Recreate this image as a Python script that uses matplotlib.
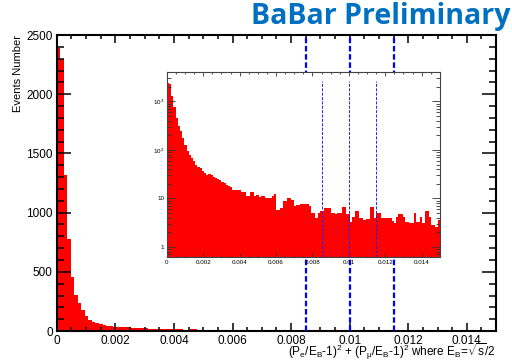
import numpy as np
import matplotlib.pyplot as plt
from matplotlib.ticker import MultipleLocator, FixedLocator, FixedFormatter, FuncFormatter, LogLocator, NullFormatter

plt.rcParams['font.family'] = ['Liberation Sans', 'DejaVu Sans']
plt.rcParams['mathtext.fontset'] = 'custom'
plt.rcParams['mathtext.rm'] = 'Liberation Sans'
plt.rcParams['mathtext.it'] = 'Liberation Sans'
plt.rcParams['mathtext.default'] = 'regular'

# histogram binning: 125 bins over [0, 0.015]
x_lo = 0.0
x_hi = 0.015
n_bins = 125

# events per bin
counts = [
    2390, 2300, 1318, 777, 456, 304, 240, 180, 125, 95,
    80, 68, 58, 48, 44, 42, 37, 34, 31, 32,
    31, 28, 26, 25, 24, 22, 21, 19, 18, 17,
    15, 15, 15, 15, 13.3, 13.3, 11, 11, 13.8, 13.8,
    11, 11.9, 10.5, 11.4, 11, 10.2, 10.2, 10.2, 11, 12.5,
    5.8, 5.8, 6.5, 8.7, 8.7, 10, 10, 9.4, 7.1, 7.4,
    7.4, 7.8, 7.8, 7.7, 7.7, 7.1, 5.0, 5.0, 3.9, 5.1,
    5.4, 5.4, 6.5, 6.5, 6.5, 5.1, 5.1, 4.8, 5.0, 5.0,
    6.8, 6.8, 4.8, 4.8, 3.3, 4.2, 5.4, 5.4, 3.9, 3.9,
    3.6, 3.7, 3.7, 6.8, 6.8, 4.0, 5.1, 5.1, 3.9, 3.9,
    3.9, 3.9, 3.9, 3.5, 3.1, 4.2, 4.8, 4.8, 4.2, 3.3,
    3.3, 3.1, 3.1, 5.1, 3.3, 3.3, 4.2, 3.1, 5.4, 5.4,
    4.2, 2.85, 2.85, 2.6, 3.6,
]

# selection cut positions
cuts = [0.0085, 0.0100, 0.0115]

edges = np.linspace(x_lo, x_hi, n_bins + 1)
counts = np.array(counts, dtype=float)

fig = plt.figure(figsize=(5.12, 3.61), dpi=100)

# ---- main linear plot
ax = fig.add_axes([0.111, 0.083, 0.858, 0.820])
ax.stairs(counts, edges, fill=True, color='#ff0000', lw=0)
for c in cuts:
    ax.axvline(c, color='#0000ff', lw=1.6, ls=(0, (2.5, 1.2)), zorder=3)
ax.set_xlim(x_lo, x_hi)
ax.set_ylim(0, 2500)

ax.xaxis.set_major_locator(MultipleLocator(0.002))
ax.xaxis.set_minor_locator(MultipleLocator(0.0005))
ax.yaxis.set_major_locator(MultipleLocator(500))
ax.yaxis.set_minor_locator(MultipleLocator(100))
ax.xaxis.set_major_formatter(FuncFormatter(lambda v, p: f'{v:g}'))
ax.tick_params(which='both', direction='in', top=True, right=True,
               width=1.1, labelsize=8.5, colors='black')
ax.tick_params(axis='x', which='major', length=6, pad=3)
ax.tick_params(axis='x', which='minor', length=3)
ax.tick_params(axis='y', which='major', length=10, pad=3)
ax.tick_params(axis='y', which='minor', length=5)
for s in ax.spines.values():
    s.set_linewidth(1.5)

ax.set_ylabel('Events Number', fontsize=8, ha='right', va='center')
ax.yaxis.set_label_coords(-0.088, 1.0)
ax.set_xlabel(r'$(P_e/E_B$-$1)^2$ + $(P_\mu/E_B$-$1)^2$ where $E_B$=$\sqrt{s}/2$',
              fontsize=8.5, ha='right', va='center')
ax.xaxis.set_label_coords(1.0, -0.07)

# ---- inset with log scale
ins = fig.add_axes([0.326, 0.288, 0.533, 0.512])
ins.set_facecolor('white')
ins.stairs(counts, edges, fill=True, color='#ff0000', lw=0, baseline=0.1)
for c in cuts:
    ins.axvline(c, ymax=0.95, color='#2020ff', lw=0.7, ls=(0, (3, 1.5)), zorder=3)
ins.set_yscale('log')
ins.set_xlim(x_lo, x_hi)
ins.set_ylim(0.62, 4000)

ins.xaxis.set_major_locator(MultipleLocator(0.002))
ins.xaxis.set_minor_locator(MultipleLocator(0.0005))
ins.xaxis.set_major_formatter(FuncFormatter(lambda v, p: f'{v:g}'))
ins.yaxis.set_major_locator(FixedLocator([1, 10, 100, 1000]))
ins.yaxis.set_major_formatter(FixedFormatter(['1', '10', '$10^{2}$', '$10^{3}$']))
ins.yaxis.set_minor_locator(LogLocator(base=10, subs=np.arange(2, 10)))
ins.yaxis.set_minor_formatter(NullFormatter())
ins.tick_params(which='both', direction='in', top=True, right=True,
                width=0.6, labelsize=4.5, colors='#333333', labelcolor='black')
ins.tick_params(axis='x', which='major', length=3, pad=2)
ins.tick_params(axis='x', which='minor', length=1.5)
ins.tick_params(axis='y', which='major', length=6, pad=2)
ins.tick_params(axis='y', which='minor', length=3)
for s in ins.spines.values():
    s.set_linewidth(0.8)
    s.set_color('#444444')

fig.text(0.997, 0.995, 'BaBar Preliminary', ha='right', va='top',
         fontsize=20.5, fontweight='bold', color='#0070c0', family='Open Sans')

fig.savefig('out.png', dpi=100)
